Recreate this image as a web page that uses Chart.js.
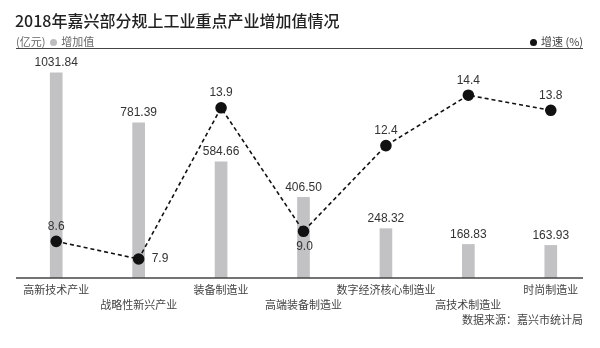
<!DOCTYPE html>
<html>
<head>
<meta charset="utf-8">
<script src="https://cdn.jsdelivr.net/npm/chart.js@4"></script>
<style>
  body { margin: 0; background: #fff; font-family: "Noto Sans CJK SC", "Liberation Sans", sans-serif; }
  #wrap { position: relative; width: 600px; height: 348px; overflow: hidden; }
  #chart { position: absolute; left: 0; top: 0; }
  .txt { position: absolute; white-space: nowrap; }
  #title { left: 15px; top: 9px; font-size: 16px; line-height: 22px; color: #222; font-weight: 500; }
  #unit { left: 16px; top: 34px; font-size: 11px; line-height: 14px; color: #666; }
  #rate { right: 17px; top: 34px; font-size: 11px; line-height: 14px; color: #444; }
  #source { right: 17px; top: 312px; font-size: 11px; line-height: 14px; color: #444; }
  #rule { position: absolute; left: 16px; top: 48px; width: 567px; border-top: 1.5px solid #444; }
  .dot { display: inline-block; width: 7px; height: 7px; border-radius: 50%; vertical-align: 0px; margin: 0 2px; }
  .grey { background: #bdbdc0; }
  .black { background: #111; }
</style>
</head>
<body>
<div id="wrap">
  <canvas id="chart" width="600" height="348"></canvas>
  <div class="txt" id="title">2018年嘉兴部分规上工业重点产业增加值情况</div>
  <div class="txt" id="unit">(亿元) <span class="dot grey"></span> 增加值</div>
  <div class="txt" id="rate"><span class="dot black"></span> 增速 (%)</div>
  <div id="rule"></div>
  <div class="txt" id="source">数据来源：嘉兴市统计局</div>
</div>
<script>
var industries = ['高新技术产业', '战略性新兴产业', '装备制造业', '高端装备制造业', '数字经济核心制造业', '高技术制造业', '时尚制造业'];
var addedValue = [1031.84, 781.39, 584.66, 406.50, 248.32, 168.83, 163.93];
var growthRate = [8.6, 7.9, 13.9, 9.0, 12.4, 14.4, 13.8];

// where each growth label sits relative to its point
var rateSide = ['up', 'right', 'up', 'down', 'up', 'up', 'up'];

var numFont = '12px "Liberation Sans", Arial, sans-serif';

var decor = {
  id: 'decor',
  afterDatasetsDraw: function(chart) {
    var ctx = chart.ctx;
    var area = chart.chartArea;
    ctx.save();
    // base line
    ctx.strokeStyle = '#444';
    ctx.lineWidth = 1.5;
    ctx.beginPath();
    ctx.moveTo(16, area.bottom);
    ctx.lineTo(583, area.bottom);
    ctx.stroke();

    ctx.font = numFont;
    ctx.fillStyle = '#333';
    ctx.textBaseline = 'middle';

    var bars = chart.getDatasetMeta(1).data;
    ctx.textAlign = 'center';
    bars.forEach(function(el, i) {
      ctx.fillText(addedValue[i].toFixed(2), el.x, el.y - 10);
    });

    var pts = chart.getDatasetMeta(0).data;
    pts.forEach(function(el, i) {
      var s = rateSide[i];
      if (s == 'right') {
        ctx.textAlign = 'left';
        ctx.fillText(growthRate[i].toFixed(1), el.x + 13, el.y);
      } else if (s == 'down') {
        ctx.textAlign = 'center';
        ctx.fillText(growthRate[i].toFixed(1), el.x + 1, el.y + 15);
      } else {
        ctx.textAlign = 'center';
        ctx.fillText(growthRate[i].toFixed(1), el.x, el.y - 15);
      }
    });
    ctx.restore();
  }
};

var ctx = document.getElementById('chart').getContext('2d');
var chart = new Chart(ctx, {
  type: 'bar',
  data: {
    labels: industries,
    datasets: [{
      type: 'line',
      label: '增速 (%)',
      data: growthRate,
      yAxisID: 'y2',
      order: 0,
      borderColor: '#111',
      borderWidth: 1.6,
      borderDash: [4, 3],
      pointRadius: 5,
      pointBackgroundColor: '#111',
      pointBorderColor: '#111',
      tension: 0,
      fill: false
    }, {
      type: 'bar',
      label: '增加值',
      data: addedValue,
      yAxisID: 'y',
      order: 1,
      backgroundColor: '#c2c2c5',
      barThickness: 12
    }]
  },
  options: {
    responsive: false,
    animation: false,
    devicePixelRatio: 1,
    layout: { padding: { top: 60, left: 15, right: 8, bottom: 0 } },
    plugins: { legend: { display: false }, tooltip: { enabled: false } },
    scales: {
      x: {
        grid: { display: false, drawTicks: false },
        border: { display: false },
        ticks: {
          autoSkip: false,
          maxRotation: 0,
          padding: 4,
          color: '#444',
          font: { family: '"Noto Sans CJK SC", sans-serif', size: 11, lineHeight: 1.36 },
          callback: function(v, i) {
            return i % 2 ? ['', industries[i]] : [industries[i]];
          }
        },
        afterFit: function(scale) { scale.height = 70; }
      },
      y: { display: false, min: 0, max: 1097 },
      y2: { display: false, min: 7.146, max: 15.797 }
    }
  },
  plugins: [decor]
});
</script>
</body>
</html>
